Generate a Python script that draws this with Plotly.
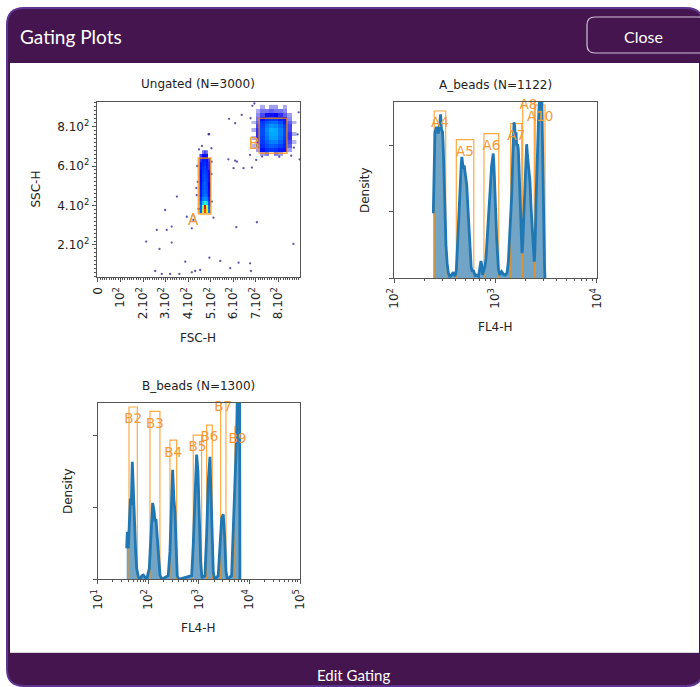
import numpy as np
import plotly.graph_objects as go

W, H = 700, 687

# ---------------- data ----------------
# Ungated scatter (FSC-H vs SSC-H)
fsc_ticks = [0, 100, 200, 300, 400, 500, 600, 700, 800]
fsc_labels = ["0", "10<sup>2</sup>", "2.10<sup>2</sup>", "3.10<sup>2</sup>", "4.10<sup>2</sup>",
              "5.10<sup>2</sup>", "6.10<sup>2</sup>", "7.10<sup>2</sup>", "8.10<sup>2</sup>"]
ssc_ticks = [200, 400, 600, 800]
ssc_labels = ["2.10<sup>2</sup>", "4.10<sup>2</sup>", "6.10<sup>2</sup>", "8.10<sup>2</sup>"]

# density of the dense bead clusters (binned)
A_heat_x = [455, 465, 475, 485, 495]
A_heat_y = [370, 390, 410, 430, 450, 470, 490, 510, 530, 550, 570, 590, 610, 630, 650, 670]
A_heat_z = [
    [0.22, 0.55, 0.85, 0.66, 0.25],
    [0.22, 0.50, 0.92, 0.58, 0.24],
    [0.20, 0.32, 0.42, 0.36, 0.20],
    [0.17, 0.25, 0.27, 0.25, 0.17],
    [0.15, 0.22, 0.24, 0.22, 0.14],
    [0.15, 0.21, 0.23, 0.20, 0.14],
    [0.14, 0.20, 0.22, 0.20, 0.13],
    [0.14, 0.20, 0.22, 0.19, 0.13],
    [0.13, 0.19, 0.21, 0.19, 0.12],
    [0.13, 0.19, 0.20, 0.18, 0.12],
    [0.13, 0.18, 0.19, 0.17, 0.12],
    [0.12, 0.17, 0.19, 0.16, 0.11],
    [0.12, 0.16, 0.17, 0.15, 0.11],
    [0.11, 0.15, 0.16, 0.14, 0.10],
    [0.10, 0.13, 0.14, 0.12, None],
    [None, 0.08, 0.10, 0.08, None],
]
B_heat_x = [690, 710, 730, 750, 770, 790, 810, 830, 850, 870]
B_heat_y = [660, 680, 700, 720, 740, 760, 780, 800, 820, 840, 860, 880, 900]
B_heat_z = [
    [None, None, 0.06, 0.08, None, 0.08, 0.06, None, None, None],
    [None, 0.06, 0.14, 0.17, 0.18, 0.17, 0.15, 0.12, 0.06, None],
    [0.04, 0.09, 0.17, 0.20, 0.22, 0.21, 0.19, 0.16, 0.09, None],
    [None, 0.10, 0.18, 0.22, 0.25, 0.25, 0.22, 0.17, 0.10, 0.04],
    [0.05, 0.11, 0.19, 0.24, 0.28, 0.28, 0.24, 0.18, 0.11, None],
    [None, 0.11, 0.20, 0.25, 0.29, 0.29, 0.25, 0.19, 0.11, 0.05],
    [0.05, 0.11, 0.20, 0.26, 0.30, 0.29, 0.25, 0.19, 0.10, None],
    [None, 0.10, 0.19, 0.24, 0.27, 0.26, 0.23, 0.18, 0.10, None],
    [0.04, 0.09, 0.18, 0.21, 0.23, 0.23, 0.20, 0.15, 0.09, 0.04],
    [None, 0.08, 0.14, 0.17, 0.18, 0.18, 0.16, 0.12, 0.07, None],
    [None, 0.07, 0.10, 0.12, 0.12, 0.13, 0.11, 0.09, 0.06, None],
    [None, 0.05, 0.08, 0.08, 0.09, 0.08, 0.08, 0.07, None, None],
    [None, None, 0.05, None, 0.06, 0.06, None, 0.05, None, None],
]
# sparse events (outliers and cluster halos)
sparse_fsc = [490, 493, 581, 637, 608, 578, 608, 601, 645, 682, 674, 350, 298, 327, 305, 261,
              214, 273, 327, 494, 542, 586, 623, 674, 678, 704, 613, 866, 893, 254, 283, 320,
              361, 416, 431, 453, 387, 423, 416, 394, 512, 701, 616,
              684, 676, 889, 884, 727, 803, 856, 693, 868,
              440, 442, 438, 446, 448, 503, 505, 503, 436, 461, 504]
sparse_ssc = [761, 761, 839, 859, 817, 634, 627, 589, 589, 592, 656, 445, 377, 293, 276, 276,
              217, 180, 212, 135, 119, 82, 110, 107, 68, 315, 290, 205, 634, 68, 53, 53,
              53, 61, 68, 73, 115, 327, 284, 343, 338, 631, 622,
              905, 842, 872, 760, 648, 647, 652, 917, 693,
              600, 520, 452, 383, 684, 690, 420, 560, 488, 702, 622]
scatter_gate_names = ["A", "B"]
scatter_gate_x = [(445, 500), (714, 837)]
scatter_gate_y = [(357, 640), (665, 842)]

# A_beads density
A_x = [243, 247, 252, 262, 272, 280, 287, 292, 300, 305, 310, 317, 324, 333, 342, 355, 370, 383,
       398, 410, 420, 430, 440, 450, 458, 465, 472, 480, 490, 500, 510, 520, 530, 540, 550, 560,
       575, 590, 604, 630, 652, 680, 703, 718, 731, 745, 765, 787, 805, 818, 840, 869, 895, 916,
       935, 950, 965, 989, 1005, 1028, 1050, 1067, 1090, 1107, 1150, 1200, 1250, 1300, 1340, 1390,
       1445, 1480, 1500, 1524, 1545, 1565, 1596, 1618, 1650, 1679, 1700, 1718, 1745, 1774, 1800,
       1828, 1855, 1884, 1920, 1959, 2000, 2032, 2070, 2109, 2150, 2193, 2240, 2280, 2320, 2366,
       2415, 2440, 2470, 2495, 2520, 2553, 2600, 2649, 2700, 2754, 2810, 2864, 2900, 2924, 2970,
       3013, 3050, 3083]
A_y = [0.98, 1.6, 2.2, 2.28, 2.18, 2.3, 2.47, 2.25, 2.2, 1.95, 1.55, 1.0, 0.5, 0.22, 0.08, 0.02,
       0.07, 0.09, 0.03, 0.12, 0.45, 0.85, 1.25, 1.55, 1.7, 1.83, 1.75, 1.65, 1.7, 1.58, 1.5, 1.4,
       1.15, 0.9, 0.6, 0.35, 0.17, 0.1, 0.12, 0.04, 0.05, 0.03, 0.22, 0.26, 0.2, 0.05, 0.12, 0.18,
       0.3, 0.45, 0.8, 1.15, 1.45, 1.7, 1.85, 1.88, 1.7, 1.4, 1.0, 0.6, 0.3, 0.15, 0.08, 0.05, 0.1,
       0.06, 0.05, 0.08, 0.25, 0.65, 1.25, 1.8, 2.1, 2.35, 2.3, 2.15, 2.2, 2.0, 2.02, 1.95, 1.75,
       1.5, 1.1, 0.75, 0.5, 0.38, 0.5, 0.8, 1.2, 1.6, 1.95, 2.02, 1.85, 1.75, 1.6, 1.45, 1.1, 0.85,
       0.6, 0.4, 0.25, 0.35, 0.55, 0.85, 1.2, 1.55, 1.95, 2.3, 2.6, 2.8, 2.85, 2.75, 2.2, 1.5, 1.0,
       0.5, 0.2, 0.0]
A_gate_names = ["A4", "A5", "A6", "A7", "A8", "A10"]
A_gate_lo = [248, 410, 769, 1413, 1858, 2472]
A_gate_hi = [322, 610, 1076, 1815, 2415, 3083]
A_gate_top = [2.52, 2.09, 2.18, 2.33, 2.79, 2.61]

# B_beads density
B_x = [37.4, 38.5, 40.3, 42.2, 44.2, 46.1, 48.3, 50.6, 52.9, 56.4, 59.0, 63.4, 68.5, 75, 80, 86,
       93, 104.7, 113, 122, 129.7, 135.6, 141.9, 150.7, 160.6, 170.4, 184, 248, 268, 285, 303,
       322, 337, 352, 374, 400, 721, 775, 837, 904, 959, 1018, 1086, 1152, 1320, 1426, 1535, 1657,
       1758, 1841, 1928, 2053, 2415, 2612, 2825, 3036, 3236, 3435, 3641, 4446, 4786, 5167, 5585,
       5846, 6121, 6400, 6486]
B_y = [0.43, 0.66, 0.43, 0.8, 1.12, 1.03, 1.63, 1.26, 0.8, 0.38, 0.15, 0.04, 0.0, 0.05, 0.06,
       0.03, 0.0, 0.15, 0.71, 1.06, 0.96, 0.8, 0.84, 0.57, 0.24, 0.06, 0.0, 0.05, 0.38, 1.03, 1.52,
       1.1, 0.94, 0.55, 0.05, 0.0, 0.05, 0.48, 1.17, 1.73, 1.5, 0.8, 0.24, 0.02, 0.05, 0.62, 1.36,
       1.70, 1.17, 0.55, 0.1, 0.0, 0.05, 0.45, 0.85, 0.9, 0.6, 0.12, 0.0, 0.05, 0.62, 1.4, 2.0,
       2.8, 2.9, 2.5, 0.0]
B_gate_names = ["B2", "B3", "B4", "B5", "B6", "B7", "B9"]
B_gate_lo = [41.6, 108, 268, 775, 1426, 2698, 5167]
B_gate_hi = [60.7, 170, 364, 1135, 1841, 3435, 6486]
B_gate_top = [2.39, 2.33, 1.93, 2.0, 2.14, 2.56, 2.12]

log_ticks_A = [100, 1000, 10000]
log_labels_A = ["10<sup>2</sup>", "10<sup>3</sup>", "10<sup>4</sup>"]
log_ticks_B = [10, 100, 1000, 10000, 100000]
log_labels_B = ["10<sup>1</sup>", "10<sup>2</sup>", "10<sup>3</sup>", "10<sup>4</sup>", "10<sup>5</sup>"]

# ---------------- styles ----------------
PURPLE = "#44154f"
BORDER = "#5d3590"
ORANGE_LINE = "rgba(255,140,0,0.75)"
ORANGE_TEXT = "#f39a3a"
BLUE = "#1f77b4"
FONT = "DejaVu Sans"
UI_FONT = "Lato"
AX = "#555555"
# jet-like map; sparse (low density) bins are drawn see-through like scattered dots
JET = [[0.0, "rgba(70,70,200,0.15)"], [0.06, "rgba(40,40,220,0.45)"], [0.11, "rgba(10,10,245,0.85)"],
       [0.125, "rgb(0,0,255)"], [0.34, "rgb(0,219,255)"], [0.5, "rgb(125,255,122)"],
       [0.65, "rgb(255,234,0)"], [0.89, "rgb(255,29,0)"], [1.0, "rgb(128,0,0)"]]


def px(x):
    return x / W


def py(y):
    return 1 - y / H


def rrect(x0, y0, x1, y1, r):
    pts = [("M", x0 + r, y0), ("L", x1 - r, y0), ("Q", x1, y0, x1, y0 + r), ("L", x1, y1 - r),
           ("Q", x1, y1, x1 - r, y1), ("L", x0 + r, y1), ("Q", x0, y1, x0, y1 - r),
           ("L", x0, y0 + r), ("Q", x0, y0, x0 + r, y0)]
    s = ""
    for p in pts:
        cmd = p[0]
        coords = p[1:]
        parts = []
        for i in range(0, len(coords), 2):
            parts.append(f"{px(coords[i]):.5f},{py(coords[i + 1]):.5f}")
        s += cmd + " " + " ".join(parts) + " "
    return s + "Z"


fig = go.Figure()

# ---------------- scatter subplot ----------------
for hx, hy, hz in [(A_heat_x, A_heat_y, A_heat_z), (B_heat_x, B_heat_y, B_heat_z)]:
    fig.add_trace(go.Heatmap(x=hx, y=hy, z=hz, colorscale=JET, zmin=0, zmax=1, showscale=False,
                             xaxis="x", yaxis="y", hoverinfo="skip"))
fig.add_trace(go.Scatter(x=sparse_fsc, y=sparse_ssc, mode="markers", xaxis="x", yaxis="y",
                         marker=dict(size=2.3, color="rgba(40,30,140,0.75)"), hoverinfo="skip"))
for (gx0, gx1), (gy0, gy1) in zip(scatter_gate_x, scatter_gate_y):
    fig.add_trace(go.Scatter(x=[gx0, gx1, gx1, gx0, gx0], y=[gy0, gy0, gy1, gy1, gy0], mode="lines",
                             line=dict(color=ORANGE_LINE, width=1.6), xaxis="x", yaxis="y",
                             hoverinfo="skip"))
fig.add_trace(go.Scatter(x=[g[0] for g in scatter_gate_x], y=[g[0] for g in scatter_gate_y],
                         text=scatter_gate_names, mode="text",
                         textposition=["bottom left", "top left"],
                         textfont=dict(color=ORANGE_TEXT, size=15, family=FONT),
                         xaxis="x", yaxis="y", cliponaxis=False, hoverinfo="skip"))


# ---------------- histogram subplots ----------------
def add_hist(xs, ys, names, lo, hi, top, xa, ya, lab_off):
    fig.add_trace(go.Scatter(x=xs, y=ys, mode="lines", fill="tozeroy", line=dict(width=0),
                             fillcolor="rgba(31,119,180,0.66)", xaxis=xa, yaxis=ya, hoverinfo="skip"))
    lx = np.log10(xs)
    for a, b in zip(lo, hi):
        inside = [(x, y) for x, y in zip(xs, ys) if a < x < b]
        gx = [a] + [p[0] for p in inside] + [b]
        gy = [float(np.interp(np.log10(a), lx, ys))] + [p[1] for p in inside] + \
             [float(np.interp(np.log10(b), lx, ys))]
        fig.add_trace(go.Scatter(x=gx, y=gy, mode="lines", fill="tozeroy", line=dict(width=0),
                                 fillcolor="rgba(255,150,40,0.05)", xaxis=xa, yaxis=ya,
                                 hoverinfo="skip"))
    for a, b, t in zip(lo, hi, top):
        fig.add_trace(go.Scatter(x=[a, a, b, b], y=[0, t, t, 0], mode="lines",
                                 line=dict(color=ORANGE_LINE, width=1.2), xaxis=xa, yaxis=ya,
                                 hoverinfo="skip"))
    fig.add_trace(go.Scatter(x=xs, y=ys, mode="lines", line=dict(color=BLUE, width=2.8),
                             xaxis=xa, yaxis=ya, hoverinfo="skip"))
    fig.add_trace(go.Scatter(x=[float(np.sqrt(a * b)) for a, b in zip(lo, hi)],
                             y=[t - lab_off for t in top], text=names, mode="text",
                             textposition="middle center",
                             textfont=dict(color=ORANGE_TEXT, size=13.5, family=FONT),
                             xaxis=xa, yaxis=ya, cliponaxis=False, hoverinfo="skip"))


add_hist(A_x, A_y, A_gate_names, A_gate_lo, A_gate_hi, A_gate_top, "x2", "y2", 0.195)
add_hist(B_x, B_y, B_gate_names, B_gate_lo, B_gate_hi, B_gate_top, "x3", "y3", 0.18)

# ---------------- axes ----------------
tickfont = dict(family=FONT, size=12, color="#222")
common = dict(showline=True, mirror=True, linecolor=AX, linewidth=1, showgrid=False, zeroline=False,
              ticks="outside", ticklen=4, tickcolor=AX, tickfont=tickfont, automargin=False)

fig.update_layout(
    xaxis=dict(domain=[px(96.7), px(300)], range=[-5, 895], anchor="y", tickmode="array",
               tickvals=fsc_ticks, ticktext=fsc_labels, tickangle=-90,
               minor=dict(dtick=10, tick0=0, ticks="outside", ticklen=2, tickcolor=AX, showgrid=False),
               **common),
    yaxis=dict(domain=[py(277.3), py(101.7)], range=[36, 926], anchor="x", tickmode="array",
               tickvals=ssc_ticks, ticktext=ssc_labels,
               minor=dict(dtick=20, tick0=0, ticks="outside", ticklen=2, tickcolor=AX, showgrid=False),
               **common),
    xaxis2=dict(domain=[px(394.3), px(596.7)], type="log", range=[2, 4], anchor="y2",
                tickmode="array", tickvals=log_ticks_A, ticktext=log_labels_A, tickangle=-90,
                minor=dict(tickmode="array",
                           tickvals=[m * d for d in [100, 1000] for m in range(2, 10)],
                           ticks="outside", ticklen=2, tickcolor=AX, showgrid=False),
                **common),
    yaxis2=dict(domain=[py(278.3), py(101.7)], range=[0, 2.66], anchor="x2", tickmode="array",
                tickvals=[0, 1, 2], showticklabels=False, **common),
    xaxis3=dict(domain=[px(97.7), px(300)], type="log", range=[1, 5], anchor="y3",
                tickmode="array", tickvals=log_ticks_B, ticktext=log_labels_B, tickangle=-90,
                minor=dict(tickmode="array",
                           tickvals=[m * d for d in [10, 100, 1000, 10000] for m in range(2, 10)],
                           ticks="outside", ticklen=2, tickcolor=AX, showgrid=False),
                **common),
    yaxis3=dict(domain=[py(579.3), py(402.7)], range=[0, 2.45], anchor="x3", tickmode="array",
                tickvals=[0, 1, 2], showticklabels=False, **common),
)

# ---------------- modal frame ----------------
shapes = [
    dict(type="path", path=rrect(7, 8, 703, 686, 17), fillcolor=PURPLE,
         line=dict(color=BORDER, width=2), xref="paper", yref="paper", layer="below"),
    dict(type="rect", x0=px(10), x1=px(699), y0=py(653), y1=py(63), fillcolor="white",
         line=dict(width=0), xref="paper", yref="paper", layer="below"),
    dict(type="line", x0=px(10), x1=px(699), y0=py(652.5), y1=py(652.5),
         line=dict(color="#d8d8d8", width=1), xref="paper", yref="paper", layer="below"),
    dict(type="path", path=rrect(587, 17, 706, 53, 8), fillcolor=PURPLE,
         line=dict(color="#cfc3d6", width=1.2), xref="paper", yref="paper", layer="below"),
]

ann = []


def text(x, y, s, size, color="#222", family=FONT, angle=0, xanchor="center"):
    ann.append(dict(x=px(x), y=py(y), xref="paper", yref="paper", text=s, showarrow=False,
                    font=dict(family=family, size=size, color=color), textangle=angle,
                    xanchor=xanchor, yanchor="middle"))


text(18, 36, "Gating Plots", 19, "white", UI_FONT, xanchor="left")
text(643, 36, "Close", 16, "white", UI_FONT)
text(354, 675, "Edit Gating", 15, "white", UI_FONT)
text(198.3, 84, "Ungated (N=3000)", 12)
text(495.5, 85, "A_beads (N=1122)", 12)
text(198.8, 386, "B_beads (N=1300)", 12)
text(198, 338, "FSC-H", 12)
text(35, 189.5, "SSC-H", 12, angle=-90)
text(495.5, 327, "FL4-H", 12)
text(365, 190, "Density", 12, angle=-90)
text(198.8, 628, "FL4-H", 12)
text(68, 491, "Density", 12, angle=-90)

fig.update_layout(width=W, height=H, margin=dict(l=0, r=0, t=0, b=0), showlegend=False,
                  paper_bgcolor="white", plot_bgcolor="white", shapes=shapes, annotations=ann,
                  hovermode=False)

fig.write_html("out.html")
